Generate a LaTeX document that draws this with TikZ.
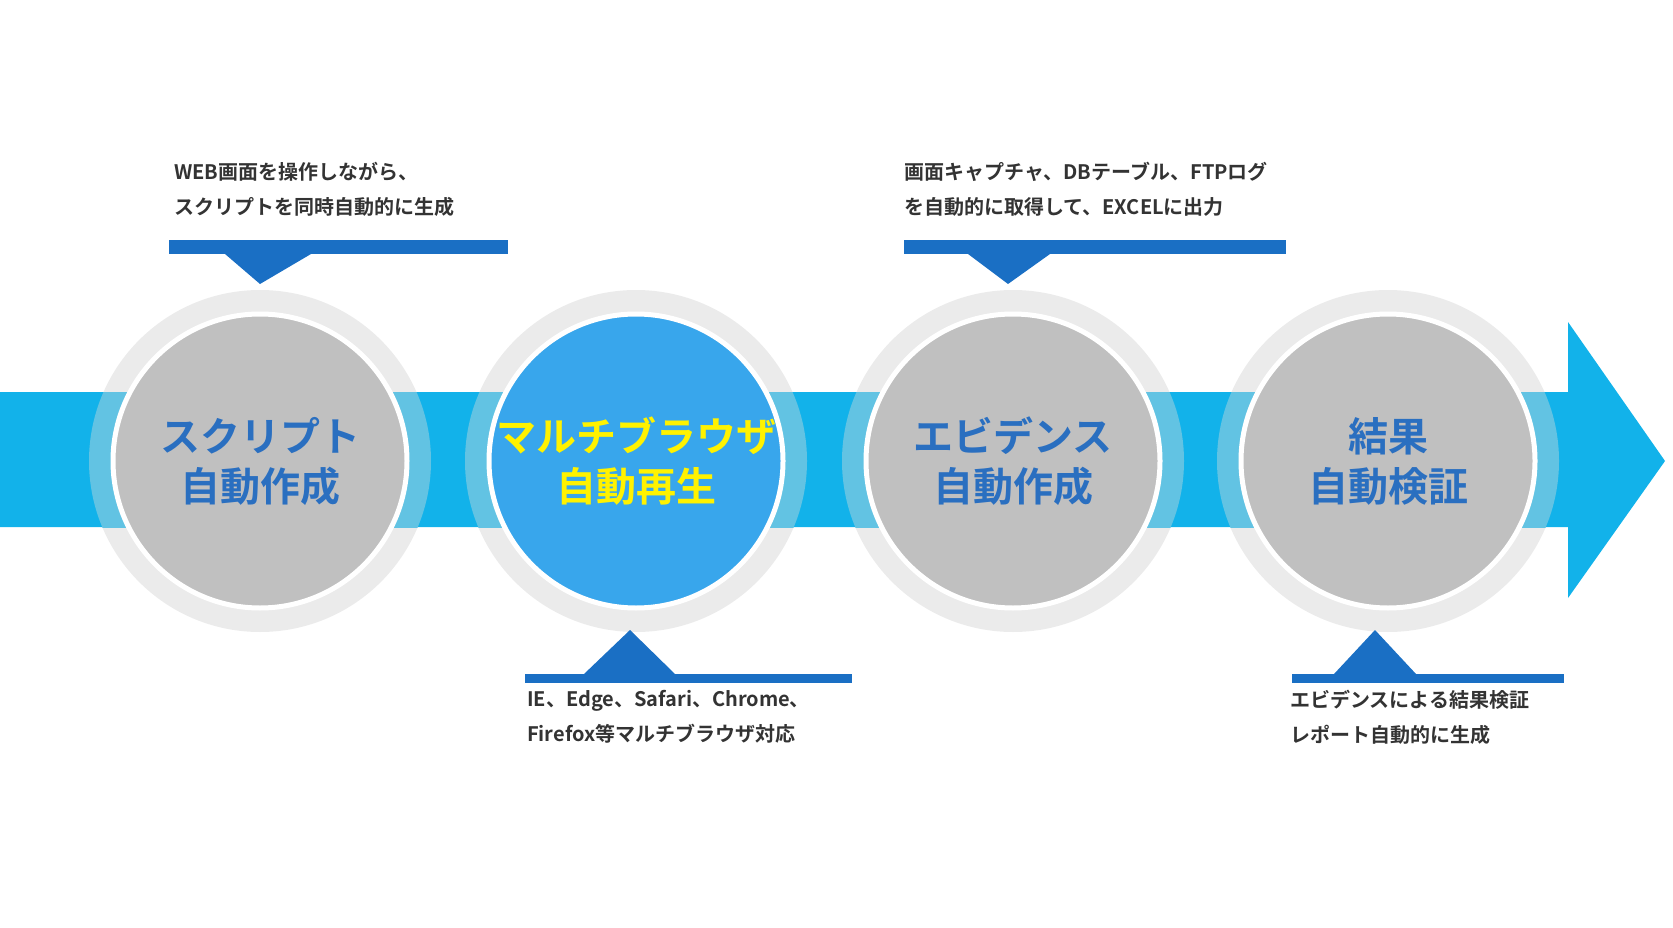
\documentclass[tikz,border=0pt]{standalone}
\usepackage{fontspec}
\setmainfont{Noto Sans CJK JP}[BoldFont={* Bold}]
\newfontfamily\jp{Noto Sans CJK JP Bold}
\definecolor{arrowc}{HTML}{12B2EA}
\definecolor{ringc}{HTML}{EBEBEB}
\definecolor{ringb}{HTML}{62C3E3}
\definecolor{greyc}{HTML}{C0C0C0}
\definecolor{hl}{HTML}{38A6EC}
\definecolor{barc}{HTML}{1A6FC4}
\definecolor{lblc}{HTML}{2A6FC0}
\definecolor{txtc}{HTML}{333333}
\begin{document}
\begin{tikzpicture}[x=1pt,y=-1pt,
  core/.style={circle,draw=white,line width=5pt,minimum size=294pt,inner sep=0pt,align=center,font=\jp\fontsize{40}{50}\selectfont,text=lblc},
  note/.style={anchor=north west,align=left,font=\jp\fontsize{20}{35}\selectfont,text=txtc,inner sep=0pt},
  bar/.style={fill=barc}]
\useasboundingbox (0,0) rectangle (1673,928);
\def\cy{461}
\foreach \x in {260,636,1013,1388}{\fill[ringc] (\x,\cy) circle (171);}
\fill[arrowc] (0,392) -- (1568,392) -- (1568,322) -- (1665,461) -- (1568,598) -- (1568,527) -- (0,527) -- cycle;
\begin{scope}
\clip (0,392) rectangle (1568,527);
\foreach \x in {260,636,1013,1388}{\fill[ringb] (\x,\cy) circle (171);}
\end{scope}
\node[core,fill=greyc] (c1) at (260,\cy) {スクリプト\\自動作成};
\node[core,fill=hl,text=yellow] (c2) at (636,\cy) {マルチブラウザ\\自動再生};
\node[core,fill=greyc] (c3) at (1013,\cy) {エビデンス\\自動作成};
\node[core,fill=greyc] (c4) at (1388,\cy) {結果\\自動検証};
% callouts
\fill[bar] (169,240) rectangle (508,254);
\fill[bar] (225,254) -- (311,254) -- (260,284) -- cycle;
\node[note] (t1) at (174,162) {WEB画面を操作しながら、\\スクリプトを同時自動的に生成};
\fill[bar] (904,240) rectangle (1286,254);
\fill[bar] (968,254) -- (1050,254) -- (1008,284) -- cycle;
\node[note] (t3) at (904,162) {画面キャプチャ、DBテーブル、FTPログ\\を自動的に取得して、EXCELに出力};
\fill[bar] (525,674) rectangle (852,683);
\fill[bar] (584,674) -- (675,674) -- (630,630) -- cycle;
\node[note] (t2) at (527,690) {IE、Edge、Safari、Chrome、\\Firefox等マルチブラウザ対応};
\fill[bar] (1292,674) rectangle (1564,683);
\fill[bar] (1334,674) -- (1416,674) -- (1375,630) -- cycle;
\node[note] (t4) at (1290,690) {エビデンスによる結果検証\\レポート自動的に生成};
\end{tikzpicture}
\end{document}
